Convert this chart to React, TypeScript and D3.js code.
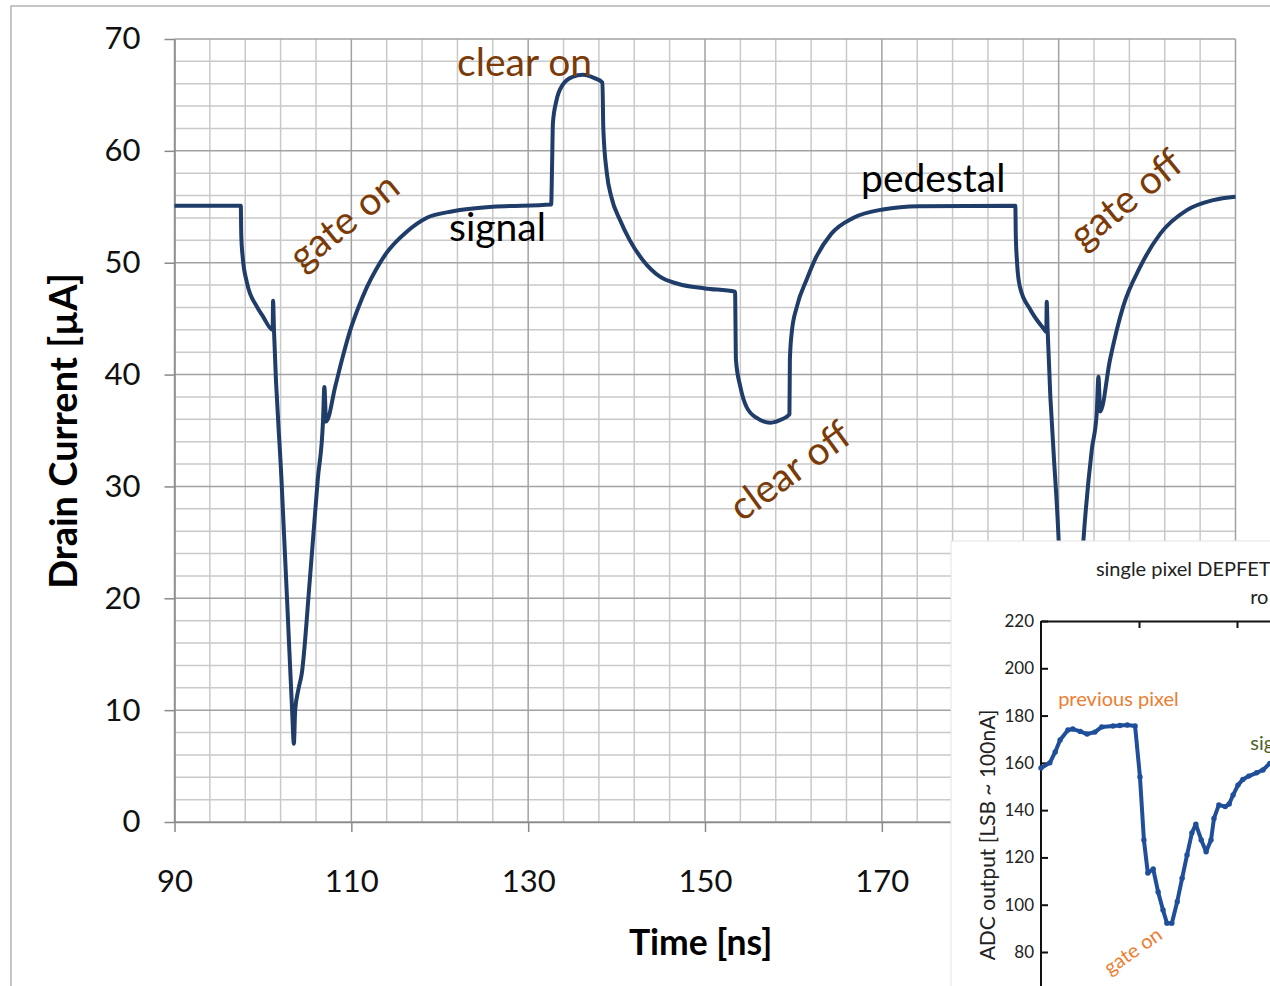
import React, { useEffect, useRef } from 'react';
import * as d3 from 'd3';

// main chart: simulated drain current
const timeNs = [
  90, 97.5, 97.55, 97.7, 98.2, 99.3, 100.0, 101.1, 101.15, 101.25,
  102.1, 102.8, 103.3, 103.5, 103.65, 104.0, 104.4, 105.3, 106.2, 106.8,
  106.95, 107.15, 108.2, 109.0, 109.85, 110.8, 111.75, 112.8, 114.0, 116.3,
  118.5, 121.5, 126.0, 132.6, 132.7, 132.8, 133.2, 133.9, 135.0, 136.2,
  137.5, 138.4, 138.5, 138.9, 139.4, 140.4, 141.5, 143.0, 144.9, 147.0,
  150.0, 153.4, 153.5, 154.0, 154.7, 155.9, 157.4, 158.7, 159.55, 159.6,
  159.8, 160.4, 161.5, 162.45, 164.3, 166.75, 170.1, 174.2, 185.1, 185.15,
  185.3, 185.6, 186.8, 188.3, 188.6, 188.65, 188.75, 190.0, 190.6, 191.0,
  191.2, 191.5, 191.9, 192.8, 193.75, 194.3, 194.5, 194.7, 195.8, 197.3,
  199.2, 201.5, 204.5, 207.5, 210,
];
const drainCurrent = [
  55.1, 55.1, 52.5, 50.6, 48.2, 46.1, 45.2, 44.0, 46.6, 44.0,
  30.6, 18.7, 10.0, 7.0, 10.0, 11.8, 13.3, 21.6, 30.6, 35.9,
  38.9, 35.8, 39.0, 41.5, 43.9, 46.0, 47.8, 49.4, 50.9, 52.8,
  54.0, 54.6, 55.0, 55.2, 58.5, 62.5, 64.5, 65.9, 66.6, 66.8,
  66.5, 66.1, 62.0, 58.0, 55.9, 53.8, 52.0, 50.2, 48.75, 48.1,
  47.7, 47.4, 41.3, 38.9, 37.1, 36.1, 35.7, 36.0, 36.45, 41.3,
  43.7, 46.1, 48.5, 50.3, 52.6, 54.0, 54.76, 55.05, 55.1, 52.5,
  49.95, 47.9, 45.8, 44.1, 43.8, 46.5, 44.0, 25.2, 14.0, 7.0,
  10.0, 11.8, 13.3, 25.2, 33.3, 36.5, 39.8, 36.7, 41.3, 46.1,
  49.6, 52.6, 54.7, 55.6, 55.9,
];
const xTickValues = [90, 110, 130, 150, 170, 190, 210];
const yTickValues = [0, 10, 20, 30, 40, 50, 60, 70];

// inset: measured ADC output
const adcSample = [
  0, 1.8, 2.9, 3.9, 5.5, 6.5, 8.0, 9.4, 11.0, 12.4,
  14.7, 16.1, 17.6, 19.2, 20.2, 21.0, 21.8, 22.9, 23.9, 24.9,
  25.7, 26.7, 27.8, 28.8, 29.8, 30.8, 31.6, 32.7, 33.7, 34.7,
  35.3, 36.3, 37.6, 38.4, 39.2, 40.2, 41.2, 42.4, 44.0, 45.3,
  46.7, 48.4,
];
const adcValue = [
  157.8, 160, 164.6, 169.7, 173.9, 174.3, 173.3, 172.2, 173, 175.2,
  175.6, 175.8, 176, 175.6, 154, 127.4, 113.4, 115.1, 105.4, 97.8,
  92.2, 92.2, 101.3, 111.2, 121, 130.4, 134.1, 127.4, 122.4, 127.4,
  136.5, 142.2, 141.5, 142.6, 146.4, 150.6, 153, 154.4, 155.8, 157,
  159.8, 161,
];
const adcTickValues = [80, 100, 120, 140, 160, 180, 200, 220];
const adcTopTicks = [20, 40];

const W = 1270;
const H = 986;
const FONT = 'Lato, "Open Sans", sans-serif';
const BROWN = '#7A3B08';

export default function App() {
  const ref = useRef<SVGSVGElement>(null);

  useEffect(() => {
    const svg = d3.select(ref.current);
    svg.selectAll('*').remove();

    svg.append('rect').attr('width', W).attr('height', H).attr('fill', '#fff');
    svg.append('rect')
      .attr('x', 11).attr('y', 6).attr('width', 1300).attr('height', 1000)
      .attr('fill', '#fff').attr('stroke', '#b4b4b4').attr('stroke-width', 1.5);

    const x = d3.scaleLinear().domain([90, 210]).range([174.5, 1235.5]);
    const y = d3.scaleLinear().domain([0, 70]).range([822, 39]);

    // grid
    const grid = svg.append('g');
    const minorX = d3.range(90, 210.01, 4).filter(v => (v - 90) % 20 !== 0);
    const minorY = d3.range(0, 70.01, 2).filter(v => v % 10 !== 0);
    grid.selectAll('.mx').data(minorX).join('line')
      .attr('x1', d => x(d)).attr('x2', d => x(d)).attr('y1', y(70)).attr('y2', y(0))
      .attr('stroke', '#c9c9c9').attr('stroke-width', 1.5);
    grid.selectAll('.my').data(minorY).join('line')
      .attr('x1', x(90)).attr('x2', x(210)).attr('y1', d => y(d)).attr('y2', d => y(d))
      .attr('stroke', '#c9c9c9').attr('stroke-width', 1.5);
    grid.selectAll('.Mx').data(xTickValues).join('line')
      .attr('x1', d => x(d)).attr('x2', d => x(d)).attr('y1', y(70)).attr('y2', y(0))
      .attr('stroke', '#a2a2a2').attr('stroke-width', 1.5);
    grid.selectAll('.My').data(yTickValues).join('line')
      .attr('x1', x(90)).attr('x2', x(210)).attr('y1', d => y(d)).attr('y2', d => y(d))
      .attr('stroke', '#a2a2a2').attr('stroke-width', 1.5);

    // axes
    const yAxis = svg.append('g')
      .attr('transform', `translate(${x(90)},0)`)
      .call(d3.axisLeft(y).tickValues(yTickValues).tickSize(10).tickSizeOuter(0).tickPadding(24));
    const xAxis = svg.append('g')
      .attr('transform', `translate(0,${y(0)})`)
      .call(d3.axisBottom(x).tickValues(xTickValues).tickSize(10).tickSizeOuter(0).tickPadding(38));
    [yAxis, xAxis].forEach(ax => {
      ax.select('.domain').attr('stroke', '#8a8a8a').attr('stroke-width', 1.5);
      ax.selectAll('.tick line').attr('stroke', '#8a8a8a').attr('stroke-width', 1.5);
      ax.selectAll('.tick text')
        .attr('font-family', FONT).attr('font-size', 31).attr('fill', '#111');
    });

    svg.append('text')
      .attr('transform', 'translate(77,431) rotate(-90)')
      .attr('text-anchor', 'middle')
      .attr('font-family', FONT).attr('font-weight', 700).attr('font-size', 38)
      .text('Drain Current [µA]');
    svg.append('text')
      .attr('x', x(149.5)).attr('y', 955)
      .attr('text-anchor', 'middle')
      .attr('font-family', FONT).attr('font-weight', 700).attr('font-size', 35.5)
      .text('Time [ns]');

    // curve
    const line = d3.line<number>()
      .x((_, i) => x(timeNs[i]))
      .y(d => y(d))
      .curve(d3.curveMonotoneX);
    svg.append('path')
      .datum(drainCurrent)
      .attr('fill', 'none')
      .attr('stroke', '#1F3D68')
      .attr('stroke-width', 4)
      .attr('stroke-linejoin', 'round')
      .attr('d', line);

    // annotations
    const note = (txt: string, t: number, v: number, color: string, angle = 0, anchor = 'start') => {
      svg.append('text')
        .attr('transform', `translate(${x(t)},${y(v)}) rotate(${angle})`)
        .attr('text-anchor', anchor)
        .attr('dominant-baseline', angle ? 'central' : 'auto')
        .attr('font-family', FONT).attr('font-size', 39).attr('fill', color)
        .text(txt);
    };
    note('clear on', 121.96, 66.7, BROWN);
    note('signal', 121.05, 51.9, '#000');
    note('pedestal', 167.65, 56.3, '#000');
    note('gate on', 109.06, 53.8, BROWN, -39, 'middle');
    note('clear off', 159.5, 31.5, BROWN, -36, 'middle');
    note('gate off', 197.5, 55.8, BROWN, -39, 'middle');

    // inset
    svg.append('rect')
      .attr('x', 951).attr('y', 541).attr('width', 400).attr('height', 500)
      .attr('fill', '#fff').attr('stroke', '#e4e4e4').attr('stroke-width', 1);

    const ix = d3.scaleLinear().domain([0, 60]).range([1041, 1335]);
    const iy = d3.scaleLinear().domain([80, 220]).range([952, 621]);

    const iyAxis = svg.append('g')
      .attr('transform', `translate(${ix(0)},0)`)
      .call(d3.axisLeft(iy).tickValues(adcTickValues).tickSizeInner(-7).tickSizeOuter(0).tickPadding(7));
    iyAxis.select('.domain').attr('d', `M0,${iy(220)}V${iy(50)}`);
    const ixAxis = svg.append('g')
      .attr('transform', `translate(0,${iy(220)})`)
      .call(d3.axisTop(ix).tickValues(adcTopTicks).tickSizeInner(-7).tickSizeOuter(0).tickFormat(() => ''));
    [iyAxis, ixAxis].forEach(ax => {
      ax.select('.domain').attr('stroke', '#111').attr('stroke-width', 2);
      ax.selectAll('.tick line').attr('stroke', '#111').attr('stroke-width', 2);
      ax.selectAll('.tick text')
        .attr('font-family', FONT).attr('font-size', 17).attr('fill', '#222');
    });

    svg.append('text')
      .attr('transform', `translate(${ix(0) - 55},${iy(129.5)}) rotate(-90)`)
      .attr('text-anchor', 'middle')
      .attr('dominant-baseline', 'central')
      .attr('font-family', FONT).attr('font-size', 21).attr('fill', '#222')
      .text('ADC output [LSB ~ 100nA]');

    svg.append('text')
      .attr('x', ix(11.2)).attr('y', iy(239))
      .attr('font-family', FONT).attr('font-size', 20).attr('fill', '#222')
      .text('single pixel DEPFET');
    svg.append('text')
      .attr('x', ix(42.7)).attr('y', iy(227.2))
      .attr('font-family', FONT).attr('font-size', 20).attr('fill', '#222')
      .text('ro');

    const iline = d3.line<number>()
      .x((_, i) => ix(adcSample[i]))
      .y(d => iy(d));
    svg.append('path')
      .datum(adcValue)
      .attr('fill', 'none')
      .attr('stroke', '#1F4E9A')
      .attr('stroke-width', 4)
      .attr('stroke-linejoin', 'round')
      .attr('d', iline);
    svg.selectAll('.dot').data(adcValue).join('circle')
      .attr('cx', (_, i) => ix(adcSample[i]))
      .attr('cy', d => iy(d))
      .attr('r', 2.7)
      .attr('fill', '#1F4E9A');

    svg.append('text')
      .attr('x', ix(3.5)).attr('y', iy(184))
      .attr('font-family', FONT).attr('font-size', 20).attr('fill', '#ED7D31')
      .text('previous pixel');
    svg.append('text')
      .attr('x', ix(42.7)).attr('y', iy(165.4))
      .attr('font-family', FONT).attr('font-size', 20).attr('fill', '#4F6228')
      .text('signal');
    svg.append('text')
      .attr('transform', `translate(${ix(18.6)},${iy(80.8)}) rotate(-35)`)
      .attr('text-anchor', 'middle')
      .attr('dominant-baseline', 'central')
      .attr('font-family', FONT).attr('font-size', 20).attr('fill', '#ED7D31')
      .text('gate on');
  }, []);

  return (
    <svg
      ref={ref}
      width={W}
      height={H}
      style={{ position: 'absolute', left: 0, top: 0, display: 'block' }}
    />
  );
}
